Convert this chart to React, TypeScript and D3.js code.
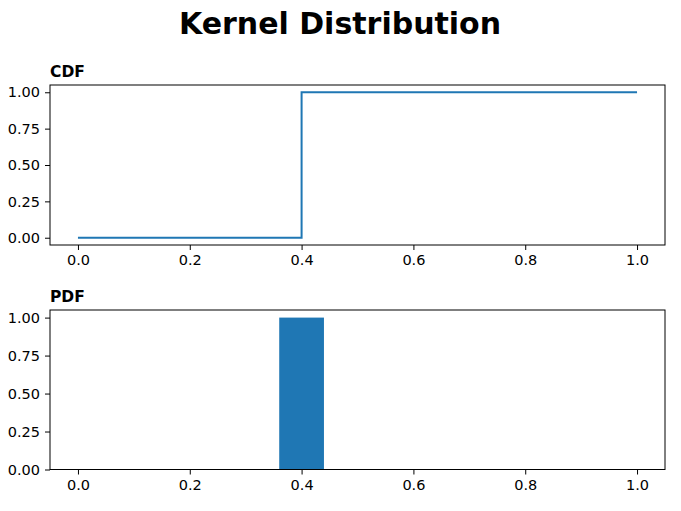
import { useEffect, useRef } from 'react';
import * as d3 from 'd3';

// CDF step points (step happens at x = 0.4)
const cdfX = [0, 0.4, 1.0];
const cdfY = [0, 1, 1];

// PDF bar
const pdfCenters = [0.4];
const pdfHeights = [1.0];
const pdfBarWidth = 0.08;

const xTicks = [0, 0.2, 0.4, 0.6, 0.8, 1.0];
const yTicks = [0, 0.25, 0.5, 0.75, 1.0];

const W = 681;
const H = 511;
const FONT = 'DejaVu Sans, sans-serif';
const BLUE = '#1f77b4';

const App = () => {
  const svgRef = useRef<SVGSVGElement>(null);

  useEffect(() => {
    const svg = d3.select(svgRef.current);
    svg.selectAll('*').remove();

    svg.append('rect').attr('width', W).attr('height', H).attr('fill', 'white');

    svg.append('text')
      .attr('x', 340)
      .attr('y', 34)
      .attr('text-anchor', 'middle')
      .style('font-family', FONT)
      .style('font-weight', 'bold')
      .style('font-size', '30px')
      .text('Kernel Distribution');

    const left = 50;
    const right = 665;

    const drawAxes = (top: number, bottom: number, yDomain: [number, number], title: string) => {
      const x = d3.scaleLinear().domain([-0.05, 1.05]).range([left, right]);
      const y = d3.scaleLinear().domain(yDomain).range([bottom, top]);
      const g = svg.append('g');

      // x axis
      const xa = g.append('g')
        .attr('transform', `translate(0,${bottom})`)
        .call(d3.axisBottom(x).tickValues(xTicks).tickFormat(d3.format('.1f')).tickSize(5).tickPadding(5));
      xa.select('.domain').remove();

      // y axis
      const ya = g.append('g')
        .attr('transform', `translate(${left},0)`)
        .call(d3.axisLeft(y).tickValues(yTicks).tickFormat(d3.format('.2f')).tickSize(5).tickPadding(5));
      ya.select('.domain').remove();

      g.selectAll('.tick text')
        .style('font-family', FONT)
        .style('font-size', '14.5px')
        .attr('fill', 'black');
      g.selectAll('.tick line').attr('stroke', 'black').attr('stroke-width', 1);

      g.append('text')
        .attr('x', left)
        .attr('y', top - 8.5)
        .style('font-family', FONT)
        .style('font-weight', 'bold')
        .style('font-size', '15.5px')
        .text(title);

      return { x, y, g };
    };

    // CDF panel
    const cdf = drawAxes(85, 245, [-0.05, 1.05], 'CDF');
    const pts: [number, number][] = cdfX.map((v, i) => [v, cdfY[i]]);
    const line = d3.line<[number, number]>()
      .x((d) => cdf.x(d[0]))
      .y((d) => cdf.y(d[1]))
      .curve(d3.curveStepAfter);
    // extend final level to last x
    svg.append('path')
      .datum(pts)
      .attr('d', line)
      .attr('fill', 'none')
      .attr('stroke', BLUE)
      .attr('stroke-width', 2);
    svg.append('rect')
      .attr('x', left).attr('y', 85)
      .attr('width', right - left).attr('height', 160)
      .attr('fill', 'none').attr('stroke', 'black').attr('stroke-width', 1);

    // PDF panel
    const pdf = drawAxes(310, 469.5, [0, 1.05], 'PDF');
    svg.append('g')
      .selectAll('rect')
      .data(pdfCenters)
      .enter()
      .append('rect')
      .attr('x', (d) => pdf.x(d - pdfBarWidth / 2))
      .attr('y', (d, i) => pdf.y(pdfHeights[i]))
      .attr('width', (d) => pdf.x(d + pdfBarWidth / 2) - pdf.x(d - pdfBarWidth / 2))
      .attr('height', (d, i) => pdf.y(0) - pdf.y(pdfHeights[i]))
      .attr('fill', BLUE);
    svg.append('rect')
      .attr('x', left).attr('y', 310)
      .attr('width', right - left).attr('height', 159.5)
      .attr('fill', 'none').attr('stroke', 'black').attr('stroke-width', 1);
  }, []);

  return (
    <svg
      ref={svgRef}
      width={W}
      height={H}
      style={{ position: 'absolute', left: 0, top: 0 }}
    />
  );
};

export default App;
